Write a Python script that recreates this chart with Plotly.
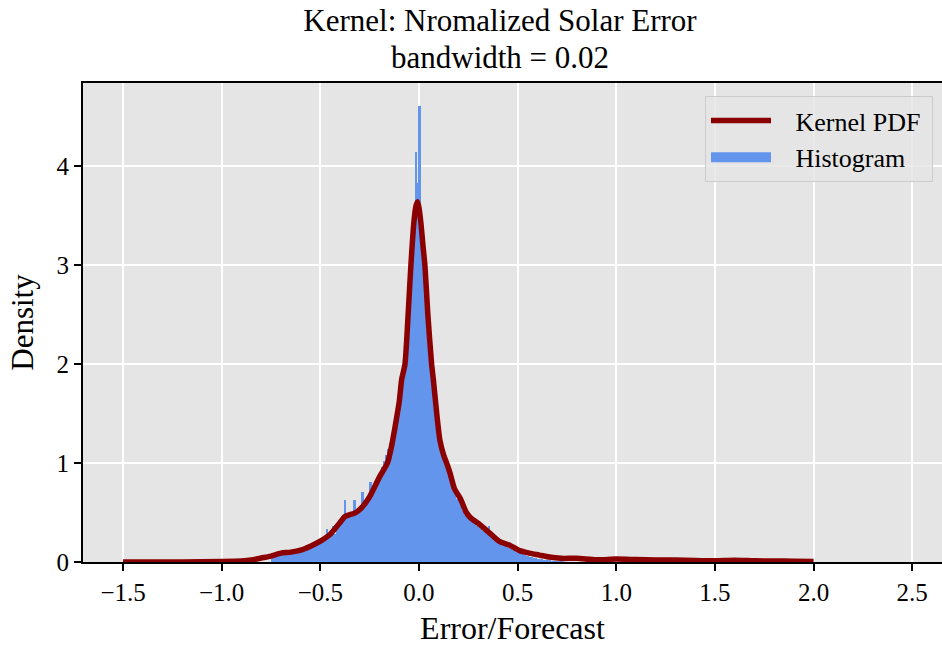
import numpy as np
import plotly.graph_objects as go

# Kernel density estimate of normalized solar forecast error (bandwidth 0.02)
kde_x = [-1.50, -1.20, -1.00, -0.90, -0.85, -0.80, -0.75, -0.70, -0.65, -0.60,
         -0.55, -0.50, -0.45, -0.40, -0.375, -0.35, -0.33, -0.30, -0.25, -0.20,
         -0.16, -0.14, -0.12, -0.10, -0.088, -0.071, -0.055, -0.041, -0.025, -0.015,
         -0.007, 0.000, 0.010, 0.020, 0.030, 0.045, 0.064, 0.073, 0.090, 0.106,
         0.125, 0.140, 0.157, 0.180, 0.210, 0.240, 0.260, 0.310, 0.360, 0.410,
         0.460, 0.510, 0.560, 0.610, 0.660, 0.720, 0.800, 0.900, 1.000, 1.100,
         1.200, 1.300, 1.400, 1.500, 1.600, 1.700, 1.800, 1.900, 2.000]
kde_y = [0.000, 0.001, 0.005, 0.010, 0.020, 0.040, 0.060, 0.090, 0.100, 0.120,
         0.160, 0.210, 0.280, 0.400, 0.460, 0.480, 0.490, 0.530, 0.660, 0.860,
         1.000, 1.160, 1.380, 1.620, 1.840, 2.000, 2.500, 3.000, 3.450, 3.600,
         3.640, 3.580, 3.420, 3.200, 3.000, 2.500, 2.000, 1.840, 1.500, 1.230,
         1.080, 1.000, 0.900, 0.740, 0.640, 0.500, 0.450, 0.375, 0.290, 0.205,
         0.170, 0.115, 0.090, 0.070, 0.050, 0.037, 0.037, 0.022, 0.030, 0.025,
         0.020, 0.020, 0.015, 0.012, 0.018, 0.012, 0.010, 0.008, 0.005]

# Histogram densities, bins of width 0.01 starting at -0.75
hist_start = -0.75
hist_width = 0.01
hist_density = [
    0.03, 0.05, 0.06, 0.07, 0.08, 0.08, 0.09, 0.09, 0.10, 0.09,
    0.10, 0.10, 0.11, 0.10, 0.11, 0.12, 0.12, 0.13, 0.14, 0.15,
    0.15, 0.17, 0.18, 0.19, 0.21, 0.22, 0.24, 0.26, 0.33, 0.25,
    0.30, 0.36, 0.28, 0.34, 0.38, 0.40, 0.42, 0.63, 0.45, 0.47,
    0.46, 0.48, 0.63, 0.50, 0.49, 0.55, 0.71, 0.56, 0.60, 0.64,
    0.81, 0.70, 0.74, 0.78, 0.86, 0.90, 0.96, 1.02, 1.08, 1.14,
    1.20, 1.28, 1.36, 1.46, 1.56, 1.68, 1.82, 2.00, 2.20, 2.45,
    2.75, 3.05, 3.35, 4.14, 3.83, 4.61, 3.35, 3.10, 2.80, 2.55,
    2.25, 2.00, 1.78, 1.58, 1.40, 1.26, 1.15, 1.06, 0.98, 0.90,
    0.84, 0.78, 0.72, 0.68, 0.64, 0.70, 0.58, 0.52, 0.48, 0.46,
    0.44, 0.46, 0.42, 0.38, 0.36, 0.35, 0.33, 0.31, 0.30, 0.28,
    0.36, 0.26, 0.24, 0.22, 0.21, 0.19, 0.18, 0.17, 0.16, 0.15,
    0.14, 0.13, 0.12, 0.11, 0.10, 0.09, 0.09, 0.08, 0.07, 0.06,
    0.06, 0.05, 0.05, 0.04, 0.04, 0.03, 0.03, 0.03, 0.02, 0.02,
    0.02, 0.02, 0.01, 0.01, 0.01, 0.01, 0.01, 0.01, 0.00, 0.00,
]

x_ticks = [-1.5, -1.0, -0.5, 0.0, 0.5, 1.0, 1.5, 2.0, 2.5]
x_tick_text = ["\u22121.5", "\u22121.0", "\u22120.5", "0.0", "0.5", "1.0", "1.5", "2.0", "2.5"]
y_ticks = [0, 1, 2, 3, 4]

HIST_COLOR = "#6495ED"
KDE_COLOR = "#8B0000"
FONT = "Liberation Serif, Times New Roman, serif"
NB = "\u00a0"

bin_centers = hist_start + hist_width * (np.arange(len(hist_density)) + 0.5)

fig = go.Figure()
fig.add_trace(go.Bar(
    x=bin_centers, y=hist_density, width=hist_width,
    marker=dict(color=HIST_COLOR, line=dict(width=0)),
    name="Histogram", showlegend=False,
))
fig.add_trace(go.Scatter(
    x=kde_x, y=kde_y, mode="lines",
    line=dict(color=KDE_COLOR, width=5.5, shape="spline", smoothing=0.6),
    name=NB * 3 + "Kernel PDF" + NB, legendrank=1,
))
# legend-only entry giving the histogram a wide patch swatch
fig.add_trace(go.Scatter(
    x=[None], y=[None], mode="lines",
    line=dict(color=HIST_COLOR, width=14),
    name=NB * 3 + "Histogram", legendrank=2,
))

fig.update_layout(
    width=942, height=646,
    margin=dict(l=83, r=0, t=83, b=84),
    paper_bgcolor="white",
    plot_bgcolor="#E5E5E5",
    bargap=0,
    font=dict(family=FONT, color="black", size=24),
    title=dict(
        text="Kernel: Nromalized Solar Error",
        font=dict(size=31, family=FONT, color="black"),
        x=500 / 942, xanchor="center", xref="container",
        y=1 - 9 / 646, yanchor="top", yref="container",
    ),
    annotations=[dict(
        text="bandwidth = 0.02", showarrow=False,
        xref="paper", yref="paper",
        x=(500 - 83) / 859, xanchor="center",
        y=1 + (83 - 38) / 479, yanchor="top",
        font=dict(size=31, family=FONT, color="black"),
    )],
    legend=dict(
        x=(933 - 83) / 859, xanchor="right",
        y=(562 - 96) / 479, yanchor="top",
        bgcolor="rgba(229,229,229,0.8)",
        bordercolor="#CCCCCC", borderwidth=1,
        font=dict(size=26, family=FONT, color="black"),
        itemwidth=60,
    ),
    showlegend=True,
)

fig.update_xaxes(
    range=[-1.703, 2.651],
    tickvals=x_ticks, ticktext=x_tick_text,
    showgrid=True, gridcolor="white", gridwidth=2,
    zeroline=False,
    showline=True, linecolor="black", linewidth=2, mirror=True,
    ticks="outside", ticklen=7, tickwidth=1.5, tickcolor="black",
    tickfont=dict(size=25, family=FONT, color="black"),
    title=dict(text="Error/Forecast", font=dict(size=32, family=FONT, color="black"), standoff=12),
)
fig.update_yaxes(
    range=[0, 4.84],
    tickvals=y_ticks,
    showgrid=True, gridcolor="white", gridwidth=2,
    zeroline=False,
    showline=True, linecolor="black", linewidth=2, mirror=False,
    ticks="outside", ticklen=7, tickwidth=1.5, tickcolor="black",
    tickfont=dict(size=25, family=FONT, color="black"),
    title=dict(text="Density", font=dict(size=31, family=FONT, color="black"), standoff=14),
)

fig.write_html("out.html")
